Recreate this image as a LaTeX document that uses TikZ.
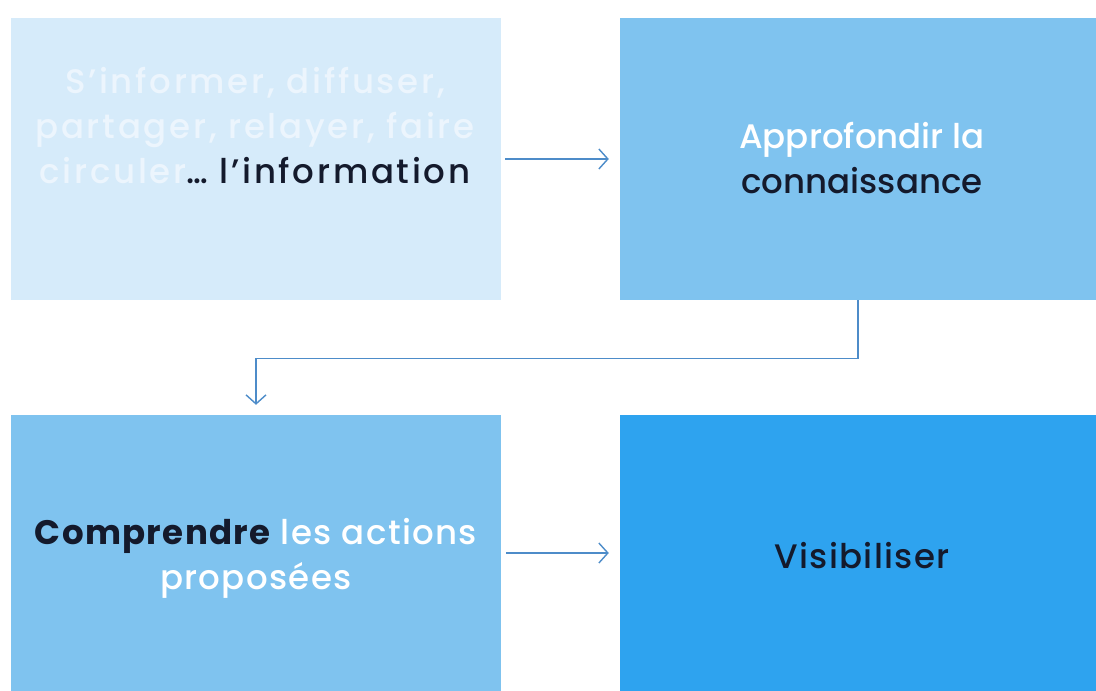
\documentclass[tikz,border=0pt]{standalone}
\usepackage{fontspec}
\setmainfont{Poppins Medium}[BoldFont={Poppins Bold}]
\newfontfamily\spacedfont{Poppins Medium}[LetterSpace=8]
\newfontfamily\loosefont{Poppins Medium}[LetterSpace=4,BoldFont={Poppins Bold}]
\usetikzlibrary{positioning,calc,arrows.meta}
\definecolor{pale}{HTML}{D6EBFA}
\definecolor{mid}{HTML}{7FC3EF}
\definecolor{deep}{HTML}{2EA3EF}
\definecolor{ghost}{HTML}{ECF5FD}
\definecolor{ink}{HTML}{141A2C}
\definecolor{arrowblue}{HTML}{4D8CC9}

\begin{document}
\begin{tikzpicture}[x=1pt,y=1pt,
  box/.style={rectangle,inner sep=0pt,draw=none},
  txt/.style={align=center,inner sep=0pt,font=\fontsize{34}{45}\selectfont},
  fleche/.style={-{Straight Barb[length=9pt,width=20pt]},line width=1.4pt,draw=arrowblue}]
\useasboundingbox (0,0) rectangle (1096,-691);
\node (0) at (256,-159) [box,fill=pale,minimum width=490pt,minimum height=282pt] {};
\node (1) at (858,-159) [box,fill=mid,minimum width=476pt,minimum height=282pt] {};
\node (2) at (256,-553) [box,fill=mid,minimum width=490pt,minimum height=276pt] {};
\node (3) at (858,-553) [box,fill=deep,minimum width=476pt,minimum height=276pt] {};
\node (0t) at (255,-126) [txt,text=ghost] {\spacedfont S’informer, diffuser,\\\spacedfont partager, relayer, faire\\\spacedfont circuler\textcolor{ink}{… l’information}};
\node (1t) at (862,-158) [txt,text=white] {Approfondir la\\\textcolor{ink}{connaissance}};
\node (2t) at (256,-558) [txt,text=white] {\loosefont\textcolor{ink}{\bfseries Comprendre} les actions\\\loosefont proposées};
\node (3t) at (862,-556) [txt,text=ink] {\loosefont Visibiliser};
\draw[fleche,shorten <=4pt,shorten >=11pt](0)--(1);
\draw[fleche,shorten >=10pt](1.south)--++(0,-58)-|(2.north);
\draw[fleche,shorten <=5pt,shorten >=11pt](2)--(3);
\end{tikzpicture}
\end{document}
